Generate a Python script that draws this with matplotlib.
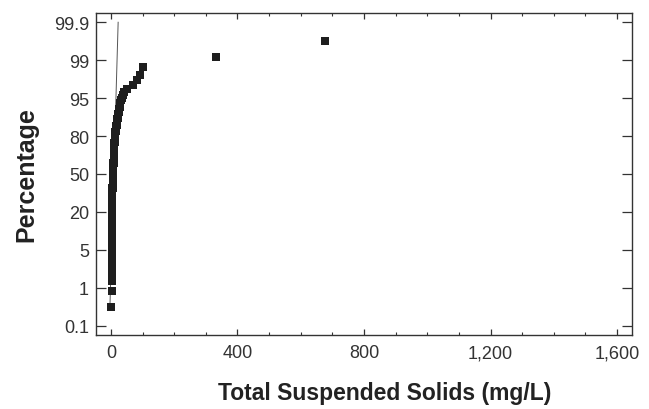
import numpy as np
import matplotlib.pyplot as plt
from matplotlib.ticker import MultipleLocator, FuncFormatter

plt.rcParams['font.family'] = ['Liberation Sans', 'DejaVu Sans']

# Sorted TSS samples (mg/L)
tss = ([2, 2] +
       [1, 2, 2, 2, 2, 3, 3, 3] +
       [2] * 6 + [3] * 10 + [4] * 13 +
       [4] * 16 + [5] * 18 + [6] * 16 + [7] * 8 +
       [7] * 8 + [8] * 12 + [9] * 12 + [10] * 10 + [11] * 9 + [12] * 8 +
       [13, 13, 13, 14, 14, 14, 15, 15, 16, 16, 17, 17, 18, 18, 19, 19, 20] +
       [20, 21, 22, 23, 24, 25, 26, 27, 28, 29, 30, 31] +
       [34, 38, 43, 50] +
       [70, 81, 92, 102] +
       [332, 676])

# fitted reference line
fit_x = [-3, 23]
fit_pct = [0.32, 99.9]

pct_ticks = [0.1, 1, 5, 20, 50, 80, 95, 99, 99.9]
pct_labels = ['0.1', '1', '5', '20', '50', '80', '95', '99', '99.9']
x_ticks = [0, 400, 800, 1200, 1600]

# plotting positions (Blom)
tss = sorted(tss)
n = len(tss)
rank = np.arange(1, n + 1)
pct = (rank - 0.375) / (n + 0.25) * 100

# probability axis: ticks evenly spaced, logit in between
T = np.log(np.array(pct_ticks) / (100 - np.array(pct_ticks)))
IDX = np.arange(len(pct_ticks), dtype=float)


def _interp(x, xp, fp):
    x = np.atleast_1d(np.asarray(x, float))
    y = np.interp(x, xp, fp)
    lo = x < xp[0]
    hi = x > xp[-1]
    y[lo] = fp[0] + (x[lo] - xp[0]) * (fp[1] - fp[0]) / (xp[1] - xp[0])
    y[hi] = fp[-1] + (x[hi] - xp[-1]) * (fp[-1] - fp[-2]) / (xp[-1] - xp[-2])
    return y


def forward(p):
    p = np.clip(np.asarray(p, float), 1e-9, 100 - 1e-9)
    return _interp(np.log(p / (100 - p)), T, IDX)


def inverse(v):
    t = _interp(v, IDX, T)
    return 100 / (1 + np.exp(-t))


fig = plt.figure(figsize=(6.49, 4.10), dpi=100)
ax = fig.add_axes([96 / 649, 1 - 336 / 410, 536 / 649, 322 / 410])
ax.set_yscale('function', functions=(forward, inverse))

ax.plot(fit_x, fit_pct, color='#555555', lw=0.7, zorder=2)
ax.plot(tss, pct, 's', color='#1e1e1e', ms=5.3, mew=0, zorder=3)

ax.set_xlim(-47, 1647)
ax.set_ylim(inverse(-0.245)[0], inverse(8.244)[0])

ax.set_xticks(x_ticks)
ax.xaxis.set_minor_locator(MultipleLocator(100))
ax.xaxis.set_major_formatter(FuncFormatter(lambda v, p: f'{v:,.0f}'))
ax.set_yticks(pct_ticks)
ax.set_yticklabels(pct_labels)
ax.yaxis.set_minor_locator(plt.NullLocator())

ax.tick_params(axis='x', which='major', direction='in', length=4, width=0.9,
               top=True, labelsize=13, labelcolor='#333333', pad=6.5, color='#333333')
ax.tick_params(axis='x', which='minor', direction='in', length=2, width=0.8,
               top=True, color='#333333')
ax.tick_params(axis='y', which='major', direction='in', length=7, width=0.9,
               right=True, labelsize=13, labelcolor='#333333', pad=5, color='#333333')
for s in ax.spines.values():
    s.set_color('#333333')
    s.set_linewidth(1.0)

ax.set_xlabel('Total Suspended Solids (mg/L)', fontsize=16.5, fontweight='bold', color='#222222')
ax.xaxis.set_label_coords(0.539, -0.143)
ax.set_ylabel('Percentage', fontsize=18, fontweight='bold', color='#222222')
ax.yaxis.set_label_coords(-0.108, 0.5)

fig.savefig('out.png', dpi=100)
